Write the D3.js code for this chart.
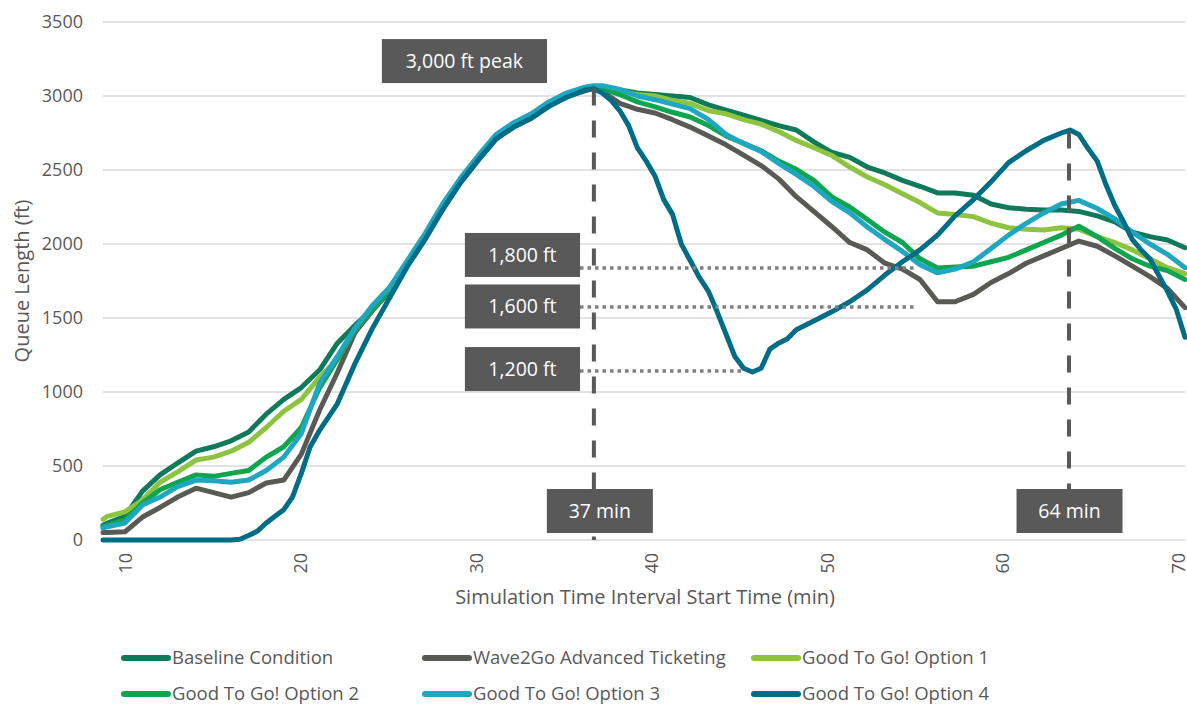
<!DOCTYPE html>
<html>
<head>
<meta charset="utf-8">
<script src="https://cdn.jsdelivr.net/npm/d3@7"></script>
<style>
  body { margin: 0; background: #fff; }
  text { font-family: "Open Sans", "Liberation Sans", sans-serif; }
</style>
</head>
<body>
<div id="chart"></div>
<script>
// minutes shared by the first five series
const minutes = [8.75, 9, 10, 11, 12, 13, 14.05, 15.05, 16.05, 17.05, 18.05, 19.05, 20.05, 21.1, 22.1, 23.1, 24.1, 25.1, 26.1, 27.1, 28.1, 29.15, 30.15,
  31.15, 32.15, 33.15, 34.15, 35.15, 36.2, 36.7, 37.2, 38.2, 39.2, 40.2, 41.2, 42.2, 43.25, 44.25, 45.25, 46.25, 47.25, 48.25, 49.25, 50.25, 51.3, 52.3, 53.3, 54.3, 55.3,
  56.3, 57.3, 58.35, 59.35, 60.35, 61.35, 62.35, 63.35, 64.35, 65.4, 66.4, 67.4, 68.4, 69.4, 70.4];

const baseline = [100, 115, 160, 330, 440, 520, 600, 630, 670, 730, 850, 950, 1030, 1150, 1330, 1450, 1560, 1680, 1860, 2040, 2250, 2430, 2580,
  2720, 2800, 2860, 2940, 3000, 3040, 3060, 3060, 3040, 3020, 3010, 3000, 2990, 2940, 2905, 2870, 2835, 2800, 2770, 2690, 2620, 2585, 2520, 2480, 2430, 2390,
  2345, 2345, 2330, 2270, 2245, 2235, 2230, 2230, 2220, 2190, 2150, 2080, 2050, 2027, 1975];

const wave2go = [50, 50, 55, 155, 220, 290, 350, 320, 290, 320, 385, 405, 580, 880, 1130, 1400, 1550, 1680, 1860, 2040, 2240, 2420, 2570,
  2710, 2790, 2850, 2930, 2995, 3035, 3050, 3030, 2950, 2910, 2885, 2840, 2790, 2730, 2670, 2600, 2530, 2440, 2320, 2220, 2120, 2010, 1960, 1870, 1830, 1760,
  1610, 1610, 1660, 1740, 1800, 1870, 1920, 1970, 2020, 1985, 1920, 1850, 1780, 1700, 1570];

const option1 = [140, 160, 190, 270, 390, 460, 540, 560, 600, 660, 760, 870, 950, 1100, 1220, 1420, 1560, 1690, 1870, 2050, 2250, 2430, 2580,
  2720, 2800, 2860, 2940, 3005, 3045, 3060, 3060, 3030, 3010, 3000, 2970, 2950, 2900, 2880, 2840, 2810, 2760, 2700, 2650, 2600, 2520, 2453, 2400, 2340, 2280,
  2210, 2200, 2185, 2140, 2110, 2100, 2095, 2110, 2100, 2050, 2010, 1960, 1900, 1840, 1800];

const option2 = [90, 100, 135, 250, 340, 390, 440, 430, 450, 470, 560, 630, 760, 1030, 1220, 1420, 1560, 1690, 1870, 2050, 2250, 2430, 2580,
  2720, 2800, 2860, 2940, 3005, 3045, 3055, 3050, 3010, 2960, 2926, 2890, 2858, 2800, 2730, 2680, 2630, 2560, 2505, 2430, 2320, 2250, 2165, 2080, 2010, 1900,
  1838, 1845, 1850, 1880, 1910, 1960, 2010, 2060, 2120, 2050, 1970, 1900, 1850, 1820, 1760];

const option3 = [80, 90, 115, 236, 290, 360, 405, 400, 390, 405, 470, 560, 720, 1060, 1240, 1430, 1585, 1710, 1890, 2070, 2270, 2450, 2600,
  2740, 2820, 2880, 2960, 3020, 3060, 3070, 3070, 3045, 3000, 2975, 2945, 2915, 2840, 2740, 2680, 2625, 2545, 2470, 2390, 2290, 2210, 2115, 2030, 1950, 1860,
  1805, 1830, 1880, 1970, 2060, 2140, 2210, 2270, 2295, 2240, 2170, 2080, 2000, 1930, 1840];

// option 4 turns sharply, so it is read on its own finer grid
const option4Minutes = [8.75, 16.05, 16.55, 17.05, 17.55, 18.05, 18.55, 19.05, 19.55, 20.05, 20.55, 21.1, 22.1, 23.1, 24.1, 25.1, 26.1, 27.1, 28.1,
  29.15, 30.15, 31.15, 32.15, 33.15, 34.15, 35.15, 36.2,
  36.7, 37.2, 37.7, 38.2, 38.7, 39.2, 39.7, 40.2, 40.7, 41.2, 41.7, 42.2, 42.7, 43.25, 43.75, 44.25, 44.75, 45.25, 45.75, 46.25, 46.75, 47.25,
  47.75, 48.25, 49.25, 50.25, 51.3, 52.3, 53.3, 54.3,
  55.3, 56.3, 57.3, 58.35, 59.35, 60.35, 61.35, 62.35, 63.35, 63.85, 64.35, 64.85, 65.4, 65.9, 66.4, 66.9, 67.4, 67.9, 68.4, 68.9, 69.4, 69.9, 70.4];
const option4 = [0, 0, 5, 30, 60, 115, 160, 205, 291, 450, 628, 743, 920, 1190, 1430, 1640, 1850, 2030, 2230, 2420, 2570, 2710, 2790, 2850, 2930, 2990, 3040,
  3050, 3020, 2970, 2900, 2800, 2650, 2560, 2460, 2300, 2200, 2000, 1890, 1780, 1680, 1540, 1390, 1240, 1160, 1135, 1160, 1290, 1330, 1360, 1420, 1480, 1540, 1610, 1690, 1790, 1880,
  1960, 2060, 2190, 2300, 2420, 2550, 2630, 2700, 2750, 2770, 2740, 2650, 2560, 2400, 2260, 2150, 2030, 1960, 1900, 1790, 1680, 1560, 1370];

const seriesNames = ["Baseline Condition", "Wave2Go Advanced Ticketing", "Good To Go! Option 1",
  "Good To Go! Option 2", "Good To Go! Option 3", "Good To Go! Option 4"];
const seriesColors = ["#0f7a5a", "#595955", "#8cc43f", "#0ea54f", "#1fa6c0", "#006d86"];

const xTicks = [10, 20, 30, 40, 50, 60, 70];
const yTicks = [0, 500, 1000, 1500, 2000, 2500, 3000, 3500];

// annotation anchors (minutes / feet)
const peakNote = { from: 24.64, to: 34.05, v: 3236, text: "3,000 ft peak" };
const timeMarks = [
  { t: 36.72, boxT: 37.06, top: 3050, text: "37 min" },
  { t: 63.79, boxT: 63.82, top: 2760, text: "64 min" }
];
const levelMarks = [
  { v: 1838, boxV: 1926, toT: 55.0, text: "1,800 ft" },
  { v: 1574, boxV: 1578, toT: 55.0, text: "1,600 ft" },
  { v: 1142, boxV: 1155, toT: 45.2, text: "1,200 ft" }
];
const levelBoxT = [29.37, 35.93];

const margin = { top: 22, right: 2, bottom: 166, left: 103 },
  width = 1187 - margin.left - margin.right,
  height = 706 - margin.top - margin.bottom;

const svg = d3.select("#chart").append("svg")
  .attr("width", 1187)
  .attr("height", 706);

const g = svg.append("g").attr("transform", translate(margin.left, margin.top));

const x = d3.scaleLinear().domain([8.75, 70.4]).range([0, width]);
const y = d3.scaleLinear().domain([0, 3500]).range([height, 0]);

// gridlines
g.append("g").selectAll("line")
  .data(yTicks)
  .enter().append("line")
  .attr("x1", 0).attr("x2", width)
  .attr("y1", d => y(d)).attr("y2", d => y(d))
  .attr("stroke", "#d9d9d9")
  .attr("stroke-width", 1.5);

// y axis
const yAxis = g.append("g")
  .call(d3.axisLeft(y).tickValues(yTicks).tickFormat(d3.format("d")).tickSize(0).tickPadding(20));
yAxis.select(".domain").remove();
yAxis.selectAll("text")
  .style("font-size", "18px")
  .style("fill", "#595959")
  .style("font-family", "'Open Sans', sans-serif");

// x axis, labels turned upright
const xAxis = g.append("g")
  .attr("transform", translate(0, height))
  .call(d3.axisBottom(x).tickValues(xTicks).tickSize(0));
xAxis.select(".domain").remove();
xAxis.selectAll("text")
  .attr("transform", "rotate(-90)")
  .attr("text-anchor", "end")
  .attr("x", -13)
  .attr("y", 0)
  .attr("dy", "0.35em")
  .style("font-size", "18px")
  .style("fill", "#595959")
  .style("font-family", "'Open Sans', sans-serif");

// axis titles
svg.append("text")
  .attr("x", 645)
  .attr("y", 604)
  .attr("text-anchor", "middle")
  .style("font-size", "20px")
  .style("fill", "#595959")
  .text("Simulation Time Interval Start Time (min)");

svg.append("text")
  .attr("transform", translate(29, margin.top + height / 2) + " rotate(-90)")
  .attr("text-anchor", "middle")
  .style("font-size", "20px")
  .style("fill", "#595959")
  .text("Queue Length (ft)");

// series
const series = [baseline, wave2go, option1, option2, option3].map((vals, i) => ({
  name: seriesNames[i],
  color: seriesColors[i],
  points: minutes.map((m, j) => [m, vals[j]])
}));
series.push({
  name: seriesNames[5],
  color: seriesColors[5],
  points: option4Minutes.map((m, j) => [m, option4[j]])
});

const line = d3.line()
  .x(d => x(d[0]))
  .y(d => y(d[1]));

g.append("g").selectAll("path")
  .data(series)
  .enter().append("path")
  .attr("d", d => line(d.points))
  .attr("fill", "none")
  .attr("stroke", d => d.color)
  .attr("stroke-width", 5)
  .attr("stroke-linejoin", "round")
  .attr("stroke-linecap", "round");

let annotations = g.append("g").attr("id", "annotation");

// dotted level lines
annotations.selectAll(".level")
  .data(levelMarks)
  .enter().append("line")
  .attr("x1", x(levelBoxT[1]))
  .attr("x2", d => x(d.toT))
  .attr("y1", d => y(d.v))
  .attr("y2", d => y(d.v))
  .attr("stroke", "#7f7f7f")
  .attr("stroke-width", 3.5)
  .attr("stroke-dasharray", "3.5 4");

// dashed time lines
annotations.selectAll(".time")
  .data(timeMarks)
  .enter().append("line")
  .attr("x1", d => x(d.t))
  .attr("x2", d => x(d.t))
  .attr("y1", d => y(d.top))
  .attr("y2", height)
  .attr("stroke", "#595959")
  .attr("stroke-width", 4)
  .attr("stroke-dasharray", "17 15");

function labelBox(cx, cy, w, h, txt) {
  annotations.append("rect")
    .attr("x", cx - w / 2)
    .attr("y", cy - h / 2)
    .attr("width", w)
    .attr("height", h)
    .attr("fill", "#595959");
  annotations.append("text")
    .attr("x", cx)
    .attr("y", cy)
    .attr("dy", "0.36em")
    .attr("text-anchor", "middle")
    .style("font-size", "19.5px")
    .style("fill", "#fff")
    .text(txt);
}

labelBox((x(peakNote.from) + x(peakNote.to)) / 2, y(peakNote.v), x(peakNote.to) - x(peakNote.from), 44, peakNote.text);
levelMarks.forEach(d => {
  labelBox((x(levelBoxT[0]) + x(levelBoxT[1])) / 2, y(d.boxV), x(levelBoxT[1]) - x(levelBoxT[0]), 44, d.text);
});
timeMarks.forEach(d => {
  labelBox(x(d.boxT), height - 29, 106, 44, d.text);
});

// legend
const legendCols = [122, 423, 752], legendRows = [658, 694];
let legend = svg.append("g").selectAll("g")
  .data(series)
  .enter().append("g")
  .attr("transform", (d, i) => translate(legendCols[i % 3], legendRows[Math.floor(i / 3)]));

legend.append("line")
  .attr("x1", 2).attr("x2", 46)
  .attr("y1", 0).attr("y2", 0)
  .attr("stroke", d => d.color)
  .attr("stroke-width", 6)
  .attr("stroke-linecap", "round");

legend.append("text")
  .attr("x", 50)
  .attr("dy", "0.34em")
  .style("font-size", "18.5px")
  .style("fill", "#595959")
  .text(d => d.name);

function translate(x, y) {
  return 'translate(' + x + ',' + y + ')';
}
</script>
</body>
</html>
